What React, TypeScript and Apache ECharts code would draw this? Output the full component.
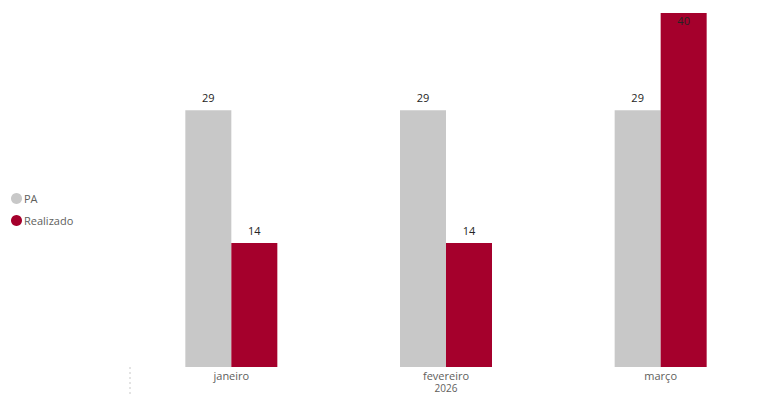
import React, { useEffect, useRef } from "react";
import * as echarts from "echarts";

const categories = ["janeiro", "fevereiro", "março"];
const paValues = [29, 29, 29];
const realizadoValues = [14, 14, 40];
const axisName = "2026";
const yMax = 40;

export default function App() {
  const ref = useRef<HTMLDivElement>(null);
  useEffect(() => {
    const chart = echarts.init(ref.current!, null, { renderer: "svg" });
    const font = "'Open Sans', 'DejaVu Sans', sans-serif";
    const mkData = (vals: number[]) =>
      vals.map((v) =>
        v >= yMax
          ? { value: v, label: { position: "insideTop", distance: 2 } }
          : { value: v }
      );
    chart.setOption({
      animation: false,
      textStyle: { fontFamily: font },
      legend: {
        orient: "vertical",
        left: 6,
        top: 188,
        icon: "circle",
        itemWidth: 11,
        itemHeight: 11,
        itemGap: 11,
        textStyle: { color: "#605e5c", fontSize: 11, fontFamily: font, padding: [0, 0, 0, -3] },
        data: ["PA", "Realizado"],
      },
      grid: { left: 124, right: 0, top: 13, bottom: 28, outerBoundsMode: "none", containLabel: false },
      xAxis: {
        type: "category",
        data: categories,
        axisLine: { show: false },
        axisTick: { show: false },
        axisLabel: { color: "#605e5c", fontSize: 11, lineHeight: 11, margin: 3, fontFamily: font },
      },
      yAxis: {
        type: "value",
        min: 0,
        max: yMax,
        show: false,
        splitLine: { show: false },
      },
      graphic: [
        {
          type: "line",
          shape: { x1: 130, y1: 367, x2: 130, y2: 395 },
          style: { stroke: "#c8c8c8", lineWidth: 1, lineDash: [2, 3] },
        },
        {
          type: "text",
          x: 446,
          y: 393,
          style: {
            text: axisName,
            fill: "#605e5c",
            fontSize: 10,
            lineHeight: 10,
            fontFamily: font,
            align: "center",
            verticalAlign: "bottom",
          },
        },
      ],
      series: [
        {
          name: "PA",
          type: "bar",
          data: mkData(paValues),
          barWidth: 46,
          barGap: "0%",
          itemStyle: { color: "#c8c8c8" },
          label: { show: true, position: "top", distance: 7, color: "#252423", fontSize: 11, fontFamily: font },
        },
        {
          name: "Realizado",
          type: "bar",
          data: mkData(realizadoValues),
          barWidth: 46,
          barGap: "0%",
          itemStyle: { color: "#a5002c" },
          label: { show: true, position: "top", distance: 7, color: "#252423", fontSize: 11, fontFamily: font },
        },
      ],
    });
    return () => chart.dispose();
  }, []);
  return (
    <div
      ref={ref}
      style={{ position: "fixed", left: 0, top: 0, width: 768, height: 395, background: "#fff" }}
    />
  );
}
